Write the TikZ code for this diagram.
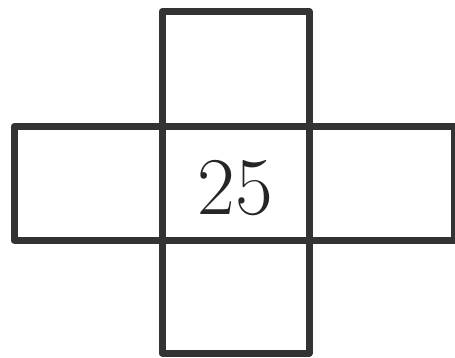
\documentclass[tikz,border=0pt]{standalone}
\begin{document}
\begin{tikzpicture}[x=1pt,y=-1pt,
  cellline/.style={draw=black!80, line width=7pt, line join=round}]
\useasboundingbox (0,0) rectangle (455,358);
\fill[white] (0,0) rectangle (455,358);
% cells
\draw[cellline] (162,11.5) rectangle (309,126.5);
\draw[cellline] (14,126.5) rectangle (454,240);
\draw[cellline] (162,240) rectangle (309,353);
\draw[cellline] (162,126.5) -- (162,240);
\draw[cellline] (309,126.5) -- (309,240);
\node[text=black!85, font=\fontsize{82}{82}\selectfont] (c) at (235.5,188) {25};
\end{tikzpicture}
\end{document}
